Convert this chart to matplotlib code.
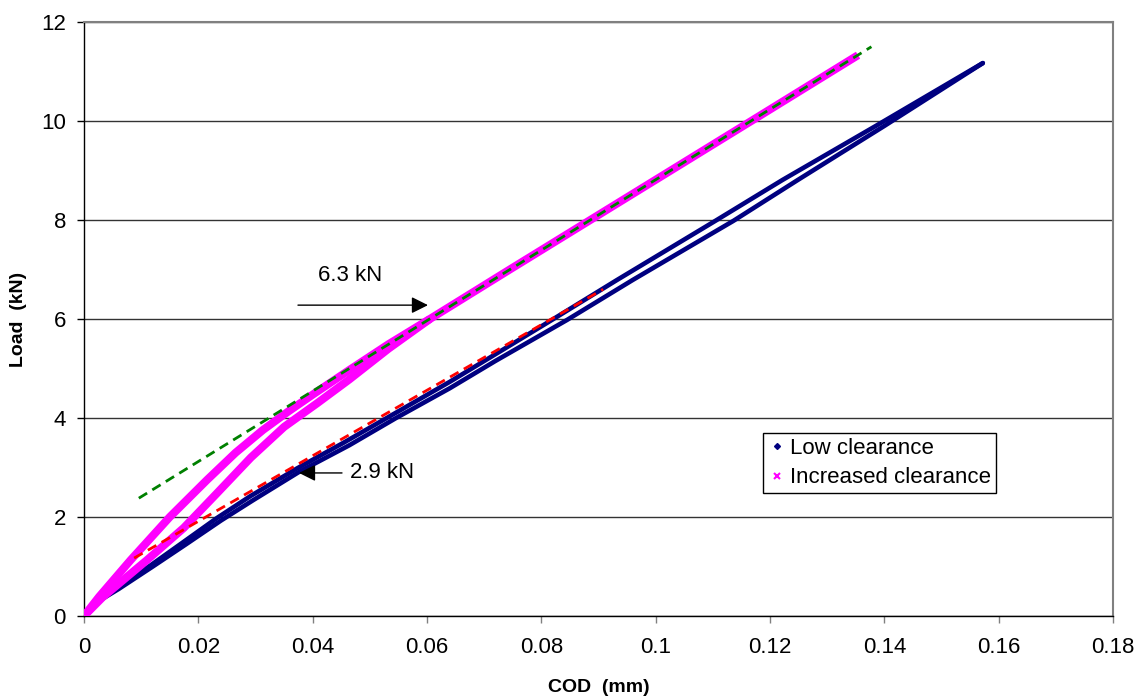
import matplotlib
matplotlib.use("Agg")
import matplotlib.pyplot as plt
from matplotlib.lines import Line2D

# ---- data ----
# Low clearance: two branches of the load/unload loop
low_up_x = [0, 0.00224, 0.00582, 0.01173, 0.01745, 0.02326, 0.02908, 0.03724, 0.0454, 0.05326,
            0.06397, 0.07285, 0.08183, 0.09326, 0.1104, 0.1222, 0.1385, 0.15723]
low_up_y = [0, 0.32, 0.60, 1.03, 1.50, 1.98, 2.42, 2.98, 3.50, 4.02,
            4.73, 5.35, 5.98, 6.79, 7.98, 8.81, 9.90, 11.17]
low_dn_x = [0, 0.00255, 0.00612, 0.01204, 0.01786, 0.02398, 0.02959, 0.03775, 0.04642, 0.05459,
            0.06397, 0.07193, 0.08448, 0.09601, 0.11356, 0.12488, 0.1400, 0.15723]
low_dn_y = [0, 0.30, 0.55, 1.00, 1.45, 1.93, 2.34, 2.92, 3.45, 4.00,
            4.60, 5.15, 5.98, 6.79, 7.98, 8.81, 9.90, 11.17]

# Increased clearance: two branches
inc_up_x = [0, 0.00265, 0.00816, 0.0150, 0.02153, 0.02653, 0.03132, 0.03571, 0.0401, 0.04642,
            0.05326, 0.0605, 0.07448, 0.08856, 0.10264, 0.11672, 0.1354]
inc_up_y = [0, 0.39, 1.13, 2.00, 2.75, 3.30, 3.76, 4.13, 4.48, 4.97,
            5.49, 6.00, 7.00, 8.00, 9.00, 10.00, 11.33]
inc_dn_x = [0, 0.00326, 0.01102, 0.01745, 0.02326, 0.02918, 0.0350, 0.04081, 0.04642, 0.05326,
            0.0605]
inc_dn_y = [0, 0.38, 1.13, 1.78, 2.48, 3.20, 3.82, 4.30, 4.78, 5.40,
            6.00]

# Linear fits (dashed)
green_x = [0.00959, 0.13774]
green_y = [2.38, 11.50]
red_x = [0.00877, 0.09081]
red_y = [1.17, 6.60]

# Annotations
ann_63_tail = (0.03743, 6.28)
ann_63_tip = (0.06017, 6.28)
ann_63_text = (0.04093, 6.87)
ann_29_tail = (0.04513, 2.89)
ann_29_tip = (0.03761, 2.89)
ann_29_text = (0.04653, 2.89)

x_ticks = [0, 0.02, 0.04, 0.06, 0.08, 0.1, 0.12, 0.14, 0.16, 0.18]
x_tick_labels = ["0", "0.02", "0.04", "0.06", "0.08", "0.1", "0.12", "0.14", "0.16", "0.18"]
y_ticks = [0, 2, 4, 6, 8, 10, 12]

# ---- figure ----
plt.rcParams['font.family'] = ['Liberation Sans', 'DejaVu Sans']
fs = 16

fig = plt.figure(figsize=(11.42, 6.98), dpi=100)
ax = fig.add_axes([84 / 1142, 1 - 616 / 698, 1029 / 1142, 594 / 698])

navy = '#000080'
mag = '#FF00FF'

ax.plot(low_up_x, low_up_y, color=navy, lw=3.3, solid_capstyle='round',
        solid_joinstyle='round', zorder=3)
ax.plot(low_dn_x, low_dn_y, color=navy, lw=3.3, solid_capstyle='round',
        solid_joinstyle='round', zorder=3)
ax.plot(inc_dn_x, inc_dn_y, color=mag, lw=5.8, solid_capstyle='butt',
        solid_joinstyle='round', zorder=4)
ax.plot(inc_up_x, inc_up_y, color=mag, lw=5.8, solid_capstyle='butt',
        solid_joinstyle='round', zorder=4)

ax.plot(red_x, red_y, color='#FF0000', lw=2.0, dashes=(3.5, 2.2), zorder=5)
ax.plot(green_x, green_y, color='#008000', lw=2.0, dashes=(3.5, 2.2), zorder=5)

ax.set_xlim(0, 0.18)
ax.set_ylim(0, 12)
ax.set_xticks(x_ticks)
ax.set_xticklabels(x_tick_labels)
ax.set_yticks(y_ticks)
ax.tick_params(axis='both', labelsize=fs, direction='out', length=5, width=1)
ax.tick_params(axis='x', pad=10, color='#808080')
ax.tick_params(axis='y', pad=8, color='black')

ax.yaxis.grid(True, color='#333333', lw=1.0)
ax.set_axisbelow(True)

for s in ['top', 'right']:
    ax.spines[s].set_color('#808080')
    ax.spines[s].set_linewidth(1.5)
for s in ['left', 'bottom']:
    ax.spines[s].set_color('black')
    ax.spines[s].set_linewidth(1.0)

ax.set_xlabel('COD  (mm)', fontsize=14, fontweight='bold', labelpad=15)
ax.set_ylabel('Load  (kN)', fontsize=14, fontweight='bold', labelpad=10)

arrow_style = dict(arrowstyle='-|>,head_length=0.5,head_width=0.25', color='black',
                   lw=1.0, mutation_scale=20, shrinkA=0, shrinkB=0)
ax.annotate('', xy=ann_63_tip, xytext=ann_63_tail, arrowprops=arrow_style, zorder=6)
ax.annotate('', xy=ann_29_tip, xytext=ann_29_tail, arrowprops=arrow_style, zorder=6)
ax.text(*ann_63_text, '6.3 kN', fontsize=fs, ha='left', va='center')
ax.text(*ann_29_text, '2.9 kN', fontsize=fs, ha='left', va='center')

handles = [
    Line2D([], [], ls='none', marker='D', markersize=3, color=navy),
    Line2D([], [], ls='none', marker='x', markersize=5, mew=1.5, color=mag),
]
leg = ax.legend(handles, ['Low clearance', 'Increased clearance'],
                loc='upper left', bbox_to_anchor=(0.6599, 0.308), borderaxespad=0,
                fontsize=fs, frameon=True, fancybox=False, framealpha=1,
                edgecolor='black', handlelength=0.8, handletextpad=0.2,
                borderpad=0.22, labelspacing=0.38)
leg.get_frame().set_linewidth(1.0)
leg.set_zorder(10)

fig.savefig('out.png', dpi=100)
